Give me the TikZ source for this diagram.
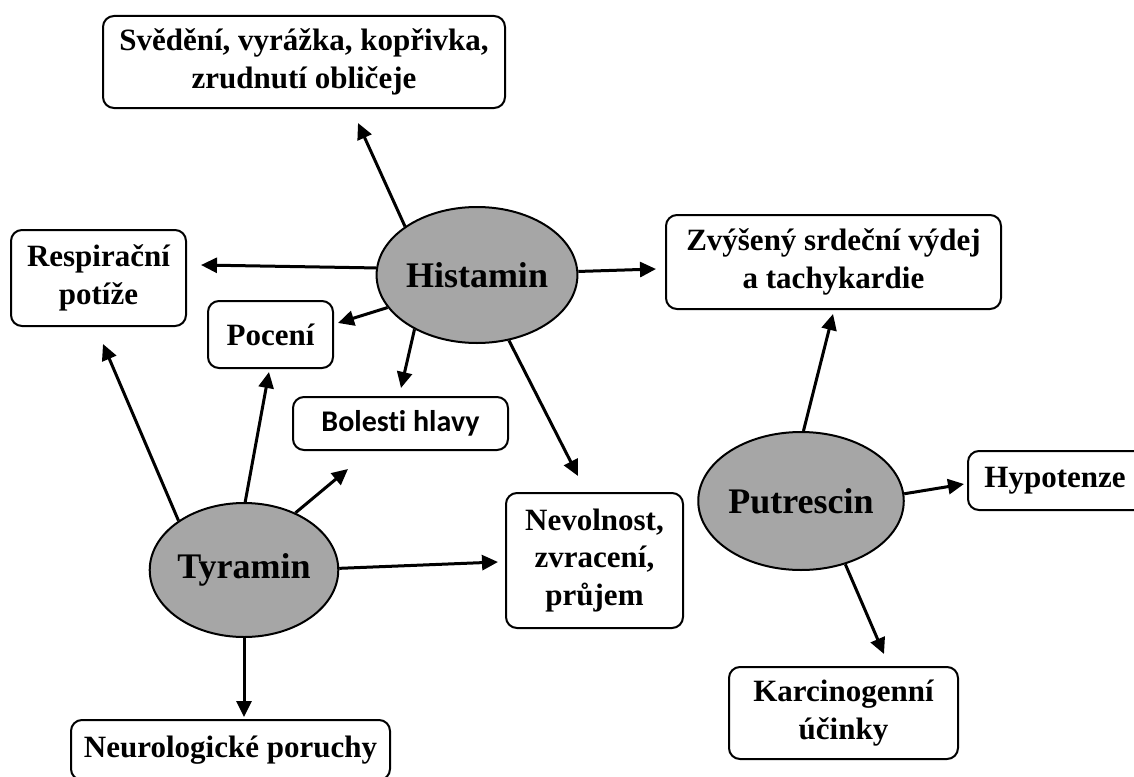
\documentclass[tikz,border=0pt]{standalone}
\usepackage{fontspec}
\setmainfont{Liberation Serif}
\newfontfamily\calib[Ligatures=NoCommon]{Carlito}
\usetikzlibrary{arrows.meta,shapes.geometric}
\definecolor{blobgray}{RGB}{166,166,166}
\begin{document}
\begin{tikzpicture}[x=1pt,y=-1pt,
  box/.style={draw, line width=2pt, rounded corners=11pt, fill=white, align=center,
    inner sep=0pt, font=\bfseries\fontsize{31}{37.5}\selectfont},
  blob/.style={ellipse, draw, line width=2pt, fill=blobgray, inner sep=0pt,
    font=\bfseries\fontsize{36}{40}\selectfont},
  arr/.style={-{Triangle[length=16pt,width=15pt]}, line width=3pt}]
\useasboundingbox (0,0) rectangle (1134,776);
\clip (0,0) rectangle (1134,776);

% boxes
\node[box, minimum width=402pt, minimum height=92pt] (svd) at (304,62) {Svědění, vyrážka, kopřivka,\\zrudnutí obličeje};
\node[box, minimum width=175pt, minimum height=96pt] (resp) at (98.5,278) {Respirační\\potíže};
\node[box, minimum width=125pt, minimum height=67pt] (poc) at (270.5,334.5) {Pocení};
\node[box, minimum width=215pt, minimum height=53pt, font=\calib\bfseries\fontsize{30}{34}\selectfont] (bol) at (400.5,423.5) {Bolesti hlavy};
\node[box, minimum width=335pt, minimum height=94pt] (zvy) at (833.5,262) {Zvýšený srdeční výdej\\a tachykardie};
\node[box, minimum width=190pt, minimum height=59pt] (hyp) at (1063,480.5) {\hspace*{-16pt}Hypotenze};
\node[box, minimum width=177pt, minimum height=135pt] (nev) at (594.5,560.5) {Nevolnost,\\zvracení,\\průjem};
\node[box, minimum width=319pt, minimum height=60pt] (neu) at (230.5,750) {Neurologické poruchy};
\node[box, minimum width=229pt, minimum height=92pt] (kar) at (843.5,713) {Karcinogenní\\účinky};

% ellipses
\node[blob, minimum width=182pt, minimum height=136pt] (hist) at (477,275) {Histamin};
\node[blob, minimum width=186pt, minimum height=134pt] (tyr) at (244,570) {Tyramin};
\node[blob, minimum width=184pt, minimum height=138pt] (put) at (801,501) {Putrescin};

% arrow tips
\coordinate (svdT) at (358,123);
\coordinate (respT) at (201,265);
\coordinate (pocT) at (338,323);
\coordinate (bolT) at (401,388);
\coordinate (nevT) at (578,476);
\coordinate (zvyT) at (656,269);
\coordinate (respT2) at (103,344);
\coordinate (pocT2) at (269,372);
\coordinate (bolT2) at (348,469);
\coordinate (nevT2) at (498,562);
\coordinate (neuT) at (244,717);
\coordinate (zvyT2) at (833,314);
\coordinate (hypT) at (964,484);
\coordinate (karT) at (884,654);

% Histamin
\draw[arr] (hist.146) -- (svdT);
\draw[arr] (hist.176) -- (respT);
\draw[arr] (hist.200) -- (pocT);
\draw[arr] (hist.221) -- (bolT);
\draw[arr] (hist.-64) -- (nevT);
\draw[arr] (hist.2) -- (zvyT);
% Tyramin
\draw[arr] (tyr.143) -- (respT2);
\draw[arr] (tyr.89) -- (pocT2);
\draw[arr] (tyr.48) -- (bolT2);
\draw[arr] (tyr.1) -- (nevT2);
\draw[arr] (tyr.270) -- (neuT);
% Putrescin
\draw[arr] (put.88) -- (zvyT2);
\draw[arr] (put.4) -- (hypT);
\draw[arr] (put.-55) -- (karT);
\end{tikzpicture}
\end{document}
